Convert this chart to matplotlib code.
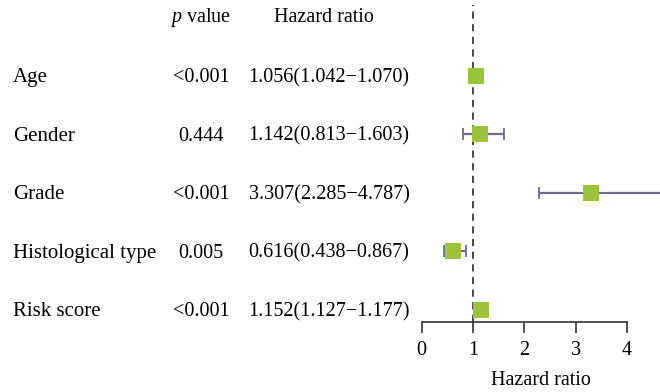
import matplotlib
matplotlib.use("Agg")
import matplotlib.pyplot as plt
import matplotlib.transforms as mtransforms

# data
variables = ["Age", "Gender", "Grade", "Histological type", "Risk score"]
p_values = ["<0.001", "0.444", "<0.001", "0.005", "<0.001"]
hr = [1.056, 1.142, 3.307, 0.616, 1.152]
hr_low = [1.042, 0.813, 2.285, 0.438, 1.127]
hr_high = [1.070, 1.603, 4.787, 0.867, 1.177]
xticks = [0, 1, 2, 3, 4]

plt.rcParams["font.family"] = ["Liberation Serif", "DejaVu Serif"]
plt.rcParams["mathtext.fontset"] = "custom"
plt.rcParams["mathtext.it"] = "Liberation Serif:italic"
plt.rcParams["mathtext.rm"] = "Liberation Serif"

fig = plt.figure(figsize=(6.6, 3.92), dpi=100)
W, H = 660.0, 392.0
ax_left, ax_bottom_px, ax_top_px = 421.7, 321.7, 5.0
ax = fig.add_axes([ax_left / W, 1 - ax_bottom_px / H, 1 - ax_left / W,
                   (ax_bottom_px - ax_top_px) / H])

rows = list(range(len(variables)))
px_per_unit = 51.3
ax.set_xlim(0, (W - ax_left) / px_per_unit)
ax.set_ylim(4.2, -1.21)

ax.axvline(1, color="#3a3a3a", lw=1.3, ls=(0, (4, 3)), zorder=1)

err_lo = [h - l for h, l in zip(hr, hr_low)]
err_hi = [u - h for h, u in zip(hr, hr_high)]
ax.errorbar(hr, rows, xerr=[err_lo, err_hi], fmt="none", ecolor="#6d6991",
            elinewidth=1.6, capsize=4, capthick=1.3, zorder=2)
ax.plot(hr, rows, ls="none", marker="s", ms=11, mew=0, color="#9bc43b", zorder=3)

for s in ["top", "right", "left"]:
    ax.spines[s].set_visible(False)
ax.spines["bottom"].set_bounds(0, 4)
ax.spines["bottom"].set_linewidth(1.2)
ax.spines["bottom"].set_color("#333333")
ax.set_yticks([])
ax.set_xticks(xticks)
ax.tick_params(axis="x", direction="out", length=8, width=1.2, color="#333333",
               labelsize=14.5, pad=6)
ax.set_xlabel("Hazard ratio", fontsize=14.5, labelpad=8)

# table text: x in figure pixels, y in data rows
trans = mtransforms.blended_transform_factory(fig.transFigure, ax.transData)
fs = 14.5
head_y = -1.0
ax.text(201 / W, head_y, "$p$ value", transform=trans, fontsize=fs,
        ha="center", va="center")
ax.text(324 / W, head_y, "Hazard ratio", transform=trans, fontsize=fs,
        ha="center", va="center")
for i, (name, p, h, lo, hi) in enumerate(zip(variables, p_values, hr, hr_low, hr_high)):
    y = i + 0.03
    ax.text(13 / W, y, name, transform=trans, fontsize=15, ha="left", va="center")
    ax.text(201 / W, y, p, transform=trans, fontsize=fs, ha="center", va="center")
    ax.text(329 / W, y, f"{h:.3f}({lo:.3f}\u2212{hi:.3f})", transform=trans,
            fontsize=fs, ha="center", va="center")

fig.savefig("out.png", dpi=100)
